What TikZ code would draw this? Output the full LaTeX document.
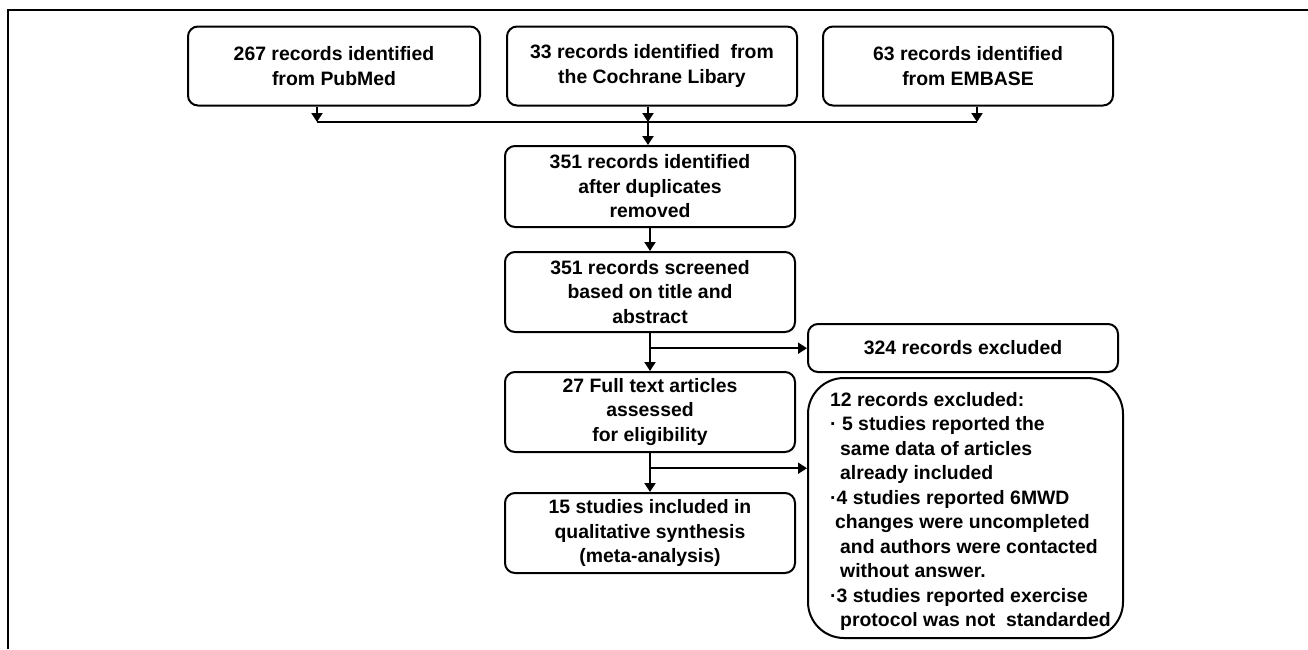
\documentclass[tikz,border=0pt]{standalone}
\usepackage{fontspec}
\setmainfont{Liberation Sans}
\usetikzlibrary{arrows.meta,calc}
\begin{document}
\begin{tikzpicture}[x=1pt, y=-1pt,
    box/.style={draw, line width=2pt, rounded corners=10pt, align=center, inner sep=0pt,
        font=\fontsize{19.4}{24.5}\selectfont\bfseries},
    arr/.style={-{Triangle[width=11pt,length=9pt]}, line width=2pt}]
    \useasboundingbox (0,0) rectangle (1308,649);

    % 外框 (上边和左边)
    \draw[line width=2pt] (8,649) -- (8,10) -- (1308,10);

    % 三个数据库
    \node[box, minimum width=292pt, minimum height=79pt] (pubmed) at (334,66) {267 records identified\\from PubMed};
    \node[box, minimum width=290pt, minimum height=79pt] (cochrane) at (652,66) {33 records identified\ \ from\\the Cochrane Libary};
    \node[box, minimum width=290pt, minimum height=79pt] (embase) at (968,66) {63 records identified\\from EMBASE};

    % 中间一列
    \node[box, minimum width=290pt, minimum height=81pt] (dedup) at (650,186.5) {351 records identified\\after duplicates\\removed};
    \node[box, minimum width=290pt, minimum height=80pt] (screen) at (650,292) {351 records screened\\based on title and\\abstract};
    \node[box, minimum width=290pt, minimum height=80pt] (full) at (650,412) {27 Full text articles\\assessed\\for eligibility};
    \node[box, minimum width=290pt, minimum height=80pt] (incl) at (650,533) {15 studies included in\\qualitative synthesis\\(meta-analysis)};

    % 右边排除的记录
    \node[box, minimum width=310pt, minimum height=48pt] (excl1) at (963,348) {324 records excluded};
    \node[box, rounded corners=36pt, minimum width=315pt, minimum height=260pt] (excl2) at (965.5,508) {};
    \node[anchor=north west, align=left, inner sep=0pt, font=\fontsize{19.4}{24.5}\selectfont\bfseries]
        (excl2txt) at (830,392) {12 records excluded:\\
        ·\ 5 studies reported the\\
        \hspace*{10pt}same data of articles\\
        \hspace*{10pt}already included\\
        ·4 studies reported 6MWD\\
        \hspace*{5pt}changes were uncompleted\\
        \hspace*{10pt}and authors were contacted\\
        \hspace*{10pt}without answer.\\
        ·3 studies reported exercise\\
        \hspace*{10pt}protocol was not\ \ standarded};

    % 汇合点
    \coordinate (j1) at (317,122);
    \coordinate (j2) at (648,122);
    \coordinate (j3) at (977,122);
    \draw[arr] (pubmed.south -| j1) -- (j1);
    \draw[arr] (cochrane.south -| j2) -- (j2);
    \draw[arr] (embase.south -| j3) -- (j3);
    \draw[line width=2pt] (j1) -- (j3);
    \draw[arr] (j2) -- (j2 |- dedup.north);

    % 向下的箭头
    \draw[arr] (dedup) -- (screen);
    \draw[arr] (screen) -- (full);
    \draw[arr] (full) -- (incl);

    % 分支
    \coordinate (b1) at ($(screen.south)!0.4!(full.north)$);
    \coordinate (b2) at ($(full.south)!0.39!(incl.north)$);
    \draw[arr] (b1) -- (b1 -| excl1.west);
    \draw[arr] (b2) -- (b2 -| excl2.west);
\end{tikzpicture}
\end{document}
